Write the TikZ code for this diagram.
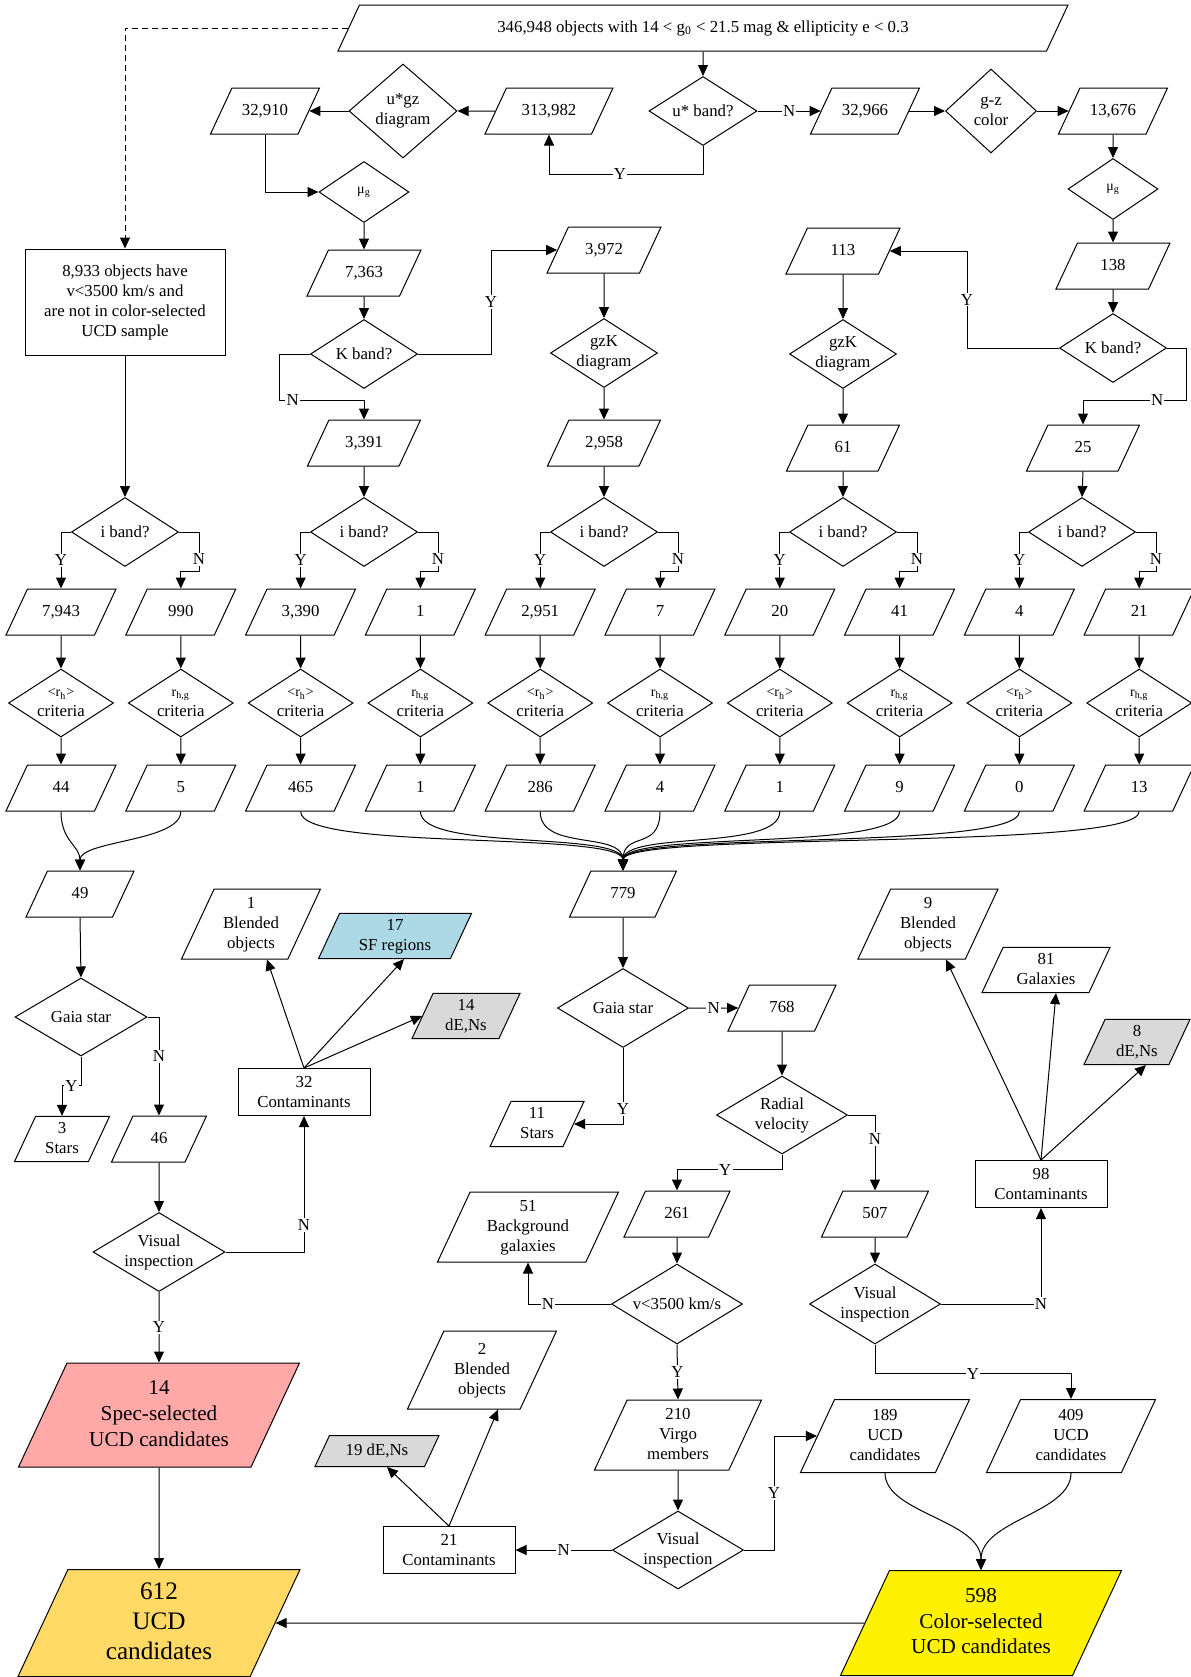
\documentclass[tikz,border=0pt]{standalone}
\usepackage{fontspec}
\setmainfont{Liberation Serif}
\usetikzlibrary{arrows.meta}
\usetikzlibrary{shapes.geometric}
\tikzset{>={Triangle[width=5pt,length=5.5pt]}}
\definecolor{specpink}{RGB}{255,168,168}
\definecolor{allgold}{RGB}{255,217,102}
\definecolor{sfblue}{RGB}{173,216,230}
\definecolor{dengray}{RGB}{217,217,217}
\newcommand{\mugtext}{{\fontsize{7}{8}\selectfont μ\textsubscript{g}}}
\newcommand{\rhm}{{\fontsize{7}{8}\selectfont <r\textsubscript{h}>}}
\newcommand{\rhg}{{\fontsize{7}{8}\selectfont r\textsubscript{h,g}}}
\tikzset{
  every node/.style={font=\fontsize{8.4}{10}\selectfont},
  base/.style={draw, line width=0.5pt, align=center},
  para/.style={base, trapezium, trapezium left angle=65, trapezium right angle=115,
    trapezium stretches body, minimum width=55pt, inner xsep=0pt,
    text height=6pt, text depth=1.8pt, inner ysep=7.6pt},
  para2/.style={para, text height=16pt, inner ysep=2.4pt},
  para3/.style={para, text height=26pt, inner ysep=3.6pt},
  dec/.style={base, diamond, inner sep=-4pt, minimum width=53.5pt, minimum height=34.5pt},
  box/.style={base, rectangle, minimum width=66pt, minimum height=23.5pt, inner sep=0pt},
  conn/.style={->, line width=0.5pt},
  yn/.style={fill=white, inner sep=0.6pt},
}

\begin{document}
\begin{tikzpicture}[x=0.5pt,y=-0.5pt]
  \useasboundingbox (0,0) rectangle (1190,1677);
  % Input catalogue and spectroscopic sample
  \node[para, minimum width=365pt] (src) at (703,28)
    {346,948 objects with 14 < g\textsubscript{0} < 21.5 mag \& ellipticity e < 0.3};
  \node[box, minimum width=100pt, minimum height=53pt] (spec) at (125,302)
    {8,933 objects have\\v<3500 km/s and\\are not in color-selected\\UCD sample};
  \draw[conn, dashed, dash pattern=on 3pt off 2pt] (src.west) -| (spec.north);
  % u* band branch
  \node[dec, minimum width=54pt] (uband) at (703,111) {u* band?};
  \node[para, minimum width=64pt] (n313982) at (549,111) {313,982};
  \node[dec, minimum width=54pt, minimum height=47pt] (ugz) at (403,111) {u*gz\\diagram};
  \node[para, minimum width=54.5pt] (n32910) at (265,111) {32,910};
  \node[para, minimum width=54.5pt] (n32966) at (865,111) {32,966};
  \node[dec, minimum width=45.5pt, minimum height=42pt] (gz) at (991,111) {g-z\\color};
  \node[para, minimum width=54.5pt] (n13676) at (1113,111) {13,676};
  \draw[conn] (src.south) -- (uband.north);
  \draw[conn] (uband.south) -- ++(0,28) -| node[yn,pos=0.27]{Y} (n313982.south);
  \draw[conn] (n313982.west) -- (ugz.east);
  \draw[conn] (ugz.west) -- (n32910.east);
  \draw[conn] (uband.east) -- node[yn]{N} (n32966.west);
  \draw[conn] (n32966.east) -- (gz.west);
  \draw[conn] (gz.east) -- (n13676.west);
  % mu_g and K band, left
  \node[dec, minimum width=45pt, minimum height=30.5pt] (mugL) at (364,192) {\mugtext};
  \node[para, minimum width=57pt] (n7363) at (364,273) {7,363};
  \node[dec] (kbL) at (364,354) {K band?};
  \node[para, minimum width=57pt] (n3972) at (604,250) {3,972};
  \node[dec] (gzkA) at (604,353) {gzK\\diagram};
  \node[para, minimum width=56.5pt] (n3391) at (364,443) {3,391};
  \node[para, minimum width=56.5pt] (n2958) at (604,443) {2,958};
  \draw[conn] (n32910.south) |- (mugL.west);
  \draw[conn] (mugL.south) -- (n7363.north);
  \draw[conn] (n7363.south) -- (kbL.north);
  \draw[conn] (kbL.east) -- ++(73,0) |- node[yn,pos=0.25]{Y} (n3972.west);
  \draw[conn] (kbL.west) -- ++(-31,0) -- ++(0,46) -| node[yn,pos=0.08]{N} (n3391.north);
  \draw[conn] (n3972.south) -- (gzkA.north);
  \draw[conn] (gzkA.south) -- (n2958.north);
  % mu_g and K band, right
  \node[dec, minimum width=45pt, minimum height=30.5pt] (mugR) at (1113,189) {\mugtext};
  \node[para, minimum width=57pt] (n138) at (1113,266) {138};
  \node[dec] (kbR) at (1113,348) {K band?};
  \node[para, minimum width=57pt] (n113) at (843,251) {113};
  \node[dec] (gzkB) at (843,354) {gzK\\diagram};
  \node[para, minimum width=56.5pt] (n61) at (843,448) {61};
  \node[para, minimum width=56.5pt] (n25) at (1083,448) {25};
  \draw[conn] (n13676.south) -- (mugR.north);
  \draw[conn] (mugR.south) -- (n138.north);
  \draw[conn] (n138.south) -- (kbR.north);
  \draw[conn] (kbR.west) -- ++(-92,0) |- node[yn,pos=0.25]{Y} (n113.east);
  \draw[conn] (kbR.east) -- ++(19,0) -- ++(0,52) -| node[yn,pos=0.14]{N} (n25.north);
  \draw[conn] (n113.south) -- (gzkB.north);
  \draw[conn] (gzkB.south) -- (n61.north);
  % size criteria per column
  \foreach \k/\cnt/\crit/\res in {0/{7,943}/\rhm/44, 1/990/\rhg/5, 2/{3,390}/\rhm/465,
      3/1/\rhg/1, 4/{2,951}/\rhm/286, 5/7/\rhg/4, 6/20/\rhm/1, 7/41/\rhg/9,
      8/4/\rhm/0, 9/21/\rhg/13} {
    \node[para] (cnt\k) at ({61+119.8*\k},612) {\cnt};
    \node[dec, minimum width=52.5pt, minimum height=34pt] (crit\k) at ({61+119.8*\k},703) {\crit\\criteria};
    \node[para] (res\k) at ({61+119.8*\k},788) {\res};
    \draw[conn] (cnt\k) -- (crit\k);
    \draw[conn] (crit\k) -- (res\k);
  }
  \foreach \j/\x/\a/\b in {A/125/0/1, B/364/2/3, C/604/4/5, D/843/6/7, E/1082/8/9} {
    \node[dec] (ib\j) at (\x,532) {i band?};
    \draw[conn] (ib\j.west) -| node[yn,pos=0.75]{Y} (cnt\a.north);
    \draw[conn] (ib\j.east) -- ++(20,0) -- node[yn,pos=0.7]{N} ++(0,39) -| (cnt\b.north);
  }
  \draw[conn] (spec.south) -- (ibA.north);
  \draw[conn] (n3391.south) -- (ibB.north);
  \draw[conn] (n2958.south) -- (ibC.north);
  \draw[conn] (n61.south) -- (ibD.north);
  \draw[conn] (n25.south) -- (ibE.north);
  % spectroscopic branch
  \node[para, minimum width=54pt] (n49) at (80,894) {49};
  \draw[conn] (res0.south) .. controls +(0,30) and +(0,-25) .. (n49.north);
  \draw[conn] (res1.south) .. controls +(0,30) and +(0,-30) .. (n49.north);
  \node[dec, minimum width=66pt, minimum height=39pt] (gaiaL) at (81,1017) {Gaia star};
  \node[para2, minimum width=47.5pt] (stars3) at (62,1139) {3\\Stars};
  \node[para, minimum width=47.5pt] (n46) at (159,1139) {46};
  \node[dec, minimum width=66pt, minimum height=39.5pt] (visL) at (159,1252) {Visual\\inspection};
  \node[box] (cont32) at (304,1092) {32\\Contaminants};
  \node[para3, minimum width=69.5pt] (blend1) at (251,924) {1\\Blended\\objects};
  \node[para2, fill=sfblue, minimum width=76.5pt] (sf17) at (395,936) {17\\SF regions};
  \node[para2, fill=dengray, minimum width=54pt] (de14) at (466,1016) {14\\dE,Ns};
  \node[para, fill=specpink, minimum width=140.5pt, text height=33.5pt, text depth=2.3pt,
    inner ysep=8.1pt, font=\fontsize{10.6}{13}\selectfont] (specsel) at (159,1415)
    {14\\Spec-selected\\UCD candidates};
  \node[para, fill=allgold, minimum width=141pt, text height=39pt, text depth=2.7pt,
    inner ysep=5.9pt, font=\fontsize{12.6}{15}\selectfont] (ucd612) at (159,1623)
    {612\\UCD\\candidates};
  \draw[conn] (n49.south) -- (gaiaL.north);
  \draw[conn] (gaiaL.south) -- ++(0,29) -| node[yn,pos=0.25]{Y} (stars3.north);
  \draw[conn] (gaiaL.east) -| node[yn,pos=0.7]{N} (n46.north);
  \draw[conn] (n46.south) -- (visL.north);
  \draw[conn] (visL.east) -| node[yn,pos=0.6]{N} (cont32.south);
  \draw[conn] (visL.south) -- node[yn]{Y} (specsel.north);
  \draw[conn] (cont32.north) -- ([xshift=8pt]blend1.south);
  \draw[conn] (cont32.north) -- ([xshift=4.5pt]sf17.south);
  \draw[conn] (cont32.north) -- (de14.west);
  \draw[conn] (specsel.south) -- (ucd612.north);
  % photometric branch
  \node[para, minimum width=53.5pt] (n779) at (623,894) {779};
  \foreach \k in {2,...,9}
    \draw[conn] (res\k.south) .. controls +(0,40) and +(0,-40) .. (n779.north);
  \node[dec, minimum width=65.5pt, minimum height=39.5pt] (gaiaM) at (623,1008) {Gaia star};
  \node[para, minimum width=54pt] (n768) at (782,1008) {768};
  \node[para2, minimum width=47pt] (stars11) at (537,1124) {11\\Stars};
  \node[dec, minimum width=65.5pt, minimum height=39pt] (radv) at (782,1115) {Radial\\velocity};
  \node[para, minimum width=53pt] (n261) at (677,1214) {261};
  \node[para, minimum width=53.5pt] (n507) at (875,1214) {507};
  \node[para3, minimum width=90.5pt] (bg51) at (528,1227) {51\\Background\\galaxies};
  \node[dec, minimum width=65.5pt, minimum height=40pt] (vel) at (677,1304) {v<3500 km/s};
  \node[dec, minimum width=65.5pt, minimum height=40pt] (visR) at (875,1304) {Visual\\inspection};
  \node[box] (cont98) at (1041,1184) {98\\Contaminants};
  \node[para3, minimum width=70pt] (blend9) at (928,924) {9\\Blended\\objects};
  \node[para2, minimum width=64pt] (gal81) at (1046,970) {81\\Galaxies};
  \node[para2, fill=dengray, minimum width=53pt] (de8) at (1137,1042) {8\\dE,Ns};
  \node[para3, minimum width=83.5pt] (virgo210) at (678,1435) {210\\Virgo\\members};
  \node[dec, minimum width=65.5pt, minimum height=39pt] (visB) at (678,1550) {Visual\\inspection};
  \node[box] (cont21) at (449,1550) {21\\Contaminants};
  \node[para, fill=dengray, minimum width=62pt, inner ysep=3.85pt] (de19) at (377,1451) {19 dE,Ns};
  \node[para3, minimum width=74.5pt, inner ysep=5.6pt] (blend2) at (482,1370) {2\\Blended\\objects};
  \node[para3, minimum width=84.5pt, inner ysep=4.35pt] (ucd189) at (885,1436) {189\\UCD\\candidates};
  \node[para3, minimum width=84.5pt, inner ysep=4.35pt] (ucd409) at (1071,1436) {409\\UCD\\candidates};
  \node[para, fill=yellow, minimum width=140.5pt, text height=33.1pt, text depth=2.3pt,
    inner ysep=8.55pt, font=\fontsize{10.6}{12.8}\selectfont] (ucd598) at (981,1623)
    {598\\Color-selected\\UCD candidates};
  \draw[conn] (n779.south) -- (gaiaM.north);
  \draw[conn] (gaiaM.east) -- node[yn]{N} (n768.west);
  \draw[conn] (gaiaM.south) |- node[yn,pos=0.4]{Y} (stars11.east);
  \draw[conn] (n768.south) -- (radv.north);
  \draw[conn] (radv.south) -- ++(0,15) -| node[yn,pos=0.27]{Y} (n261.north);
  \draw[conn] (radv.east) -| node[yn,pos=0.66]{N} (n507.north);
  \draw[conn] (n261.south) -- (vel.north);
  \draw[conn] (vel.west) -| node[yn,pos=0.38]{N} (bg51.south);
  \draw[conn] (vel.south) -- node[yn]{Y} (virgo210.north);
  \draw[conn] (virgo210.south) -- (visB.north);
  \draw[conn] (visB.east) -- ++(30,0) |- node[yn,pos=0.25]{Y} (ucd189.west);
  \draw[conn] (visB.west) -- node[yn]{N} (cont21.east);
  \draw[conn] (cont21.north) -- ([xshift=5pt]de19.south);
  \draw[conn] (cont21.north) -- ([xshift=8pt]blend2.south);
  \draw[conn] (n507.south) -- (visR.north);
  \draw[conn] (visR.east) -| node[yn,pos=0.5]{N} (cont98.south);
  \draw[conn] (visR.south) -- ++(0,29) -| node[yn,pos=0.25]{Y} (ucd409.north);
  \draw[conn] (cont98.north) -- ([xshift=9pt]blend9.south);
  \draw[conn] (cont98.north) -- ([xshift=5pt]gal81.south);
  \draw[conn] (cont98.north) -- ([xshift=4.5pt]de8.south);
  \draw[conn] (ucd189.south) .. controls +(0,40) and +(0,-50) .. (ucd598.north);
  \draw[conn] (ucd409.south) .. controls +(0,40) and +(0,-50) .. (ucd598.north);
  \draw[conn] (ucd598.west) -- (ucd612.east);
\end{tikzpicture}
\end{document}
